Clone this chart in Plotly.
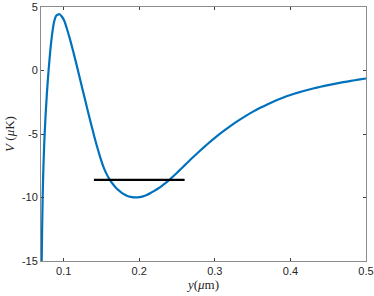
import plotly.graph_objects as go

# Potential curve V(y)
y_um = [0.0709, 0.0715, 0.0722, 0.0730, 0.0740, 0.0749, 0.0762, 0.0778, 0.0800,
        0.0822, 0.0846, 0.0872, 0.0900, 0.0940, 0.0975, 0.1005, 0.1045, 0.1085,
        0.1125, 0.1165, 0.1205, 0.1245, 0.1285, 0.1325, 0.1365, 0.1405, 0.1445,
        0.1485, 0.1525, 0.1565, 0.1605, 0.1645, 0.1685, 0.1725, 0.1765, 0.1805,
        0.1845, 0.1885, 0.1925, 0.1955, 0.2000, 0.2050, 0.2100, 0.2150, 0.2200,
        0.2250, 0.2300, 0.2350, 0.2400, 0.2450, 0.2500, 0.2550, 0.2600, 0.2650,
        0.2700, 0.2800, 0.2900, 0.3000, 0.3100, 0.3200, 0.3300, 0.3400, 0.3500,
        0.3600, 0.3700, 0.3800, 0.3900, 0.4000, 0.4100, 0.4200, 0.4300, 0.4400,
        0.4500, 0.4600, 0.4700, 0.4800, 0.4900, 0.5000]
V_uK = [-15.0, -12.5, -10.0, -8.0, -6.2, -4.9, -3.4, -1.8, 0.0,
        1.5, 2.8, 3.8, 4.3, 4.45, 4.25, 3.95, 3.25, 2.43,
        1.53, 0.58, -0.39, -1.37, -2.35, -3.32, -4.27, -5.19, -6.06,
        -6.86, -7.57, -8.12, -8.55, -8.90, -9.19, -9.42, -9.61, -9.76,
        -9.88, -9.95, -9.99, -9.99, -9.97, -9.91, -9.80, -9.65, -9.48,
        -9.29, -9.08, -8.85, -8.60, -8.33, -8.05, -7.76, -7.47, -7.18,
        -6.89, -6.34, -5.81, -5.31, -4.84, -4.40, -3.99, -3.61, -3.26,
        -2.94, -2.65, -2.38, -2.14, -1.93, -1.74, -1.57, -1.42, -1.28,
        -1.15, -1.03, -0.92, -0.82, -0.72, -0.63]

# Horizontal level (black segment)
level_y = [0.14, 0.26]
level_V = [-8.62, -8.62]

x_ticks = [0.1, 0.2, 0.3, 0.4, 0.5]
x_tick_labels = ["0.1", "0.2", "0.3", "0.4", "0.5"]
y_ticks = [5, 0, -5, -10, -15]
y_tick_labels = ["5", "0", "-5", "-10", "-15"]

fig = go.Figure()
fig.add_trace(go.Scatter(x=y_um, y=V_uK, mode="lines",
                         line=dict(color="#0072BD", width=2.2, shape="spline", smoothing=0.5),
                         showlegend=False, hoverinfo="skip"))
fig.add_trace(go.Scatter(x=level_y, y=level_V, mode="lines",
                         line=dict(color="black", width=2.2),
                         showlegend=False, hoverinfo="skip"))

axis_common = dict(showgrid=False, zeroline=False, showline=True, mirror="ticks",
                   linecolor="#8c8c8c", linewidth=1, ticks="inside", ticklen=3,
                   tickcolor="#404040", tickwidth=1, automargin=False,
                   tickfont=dict(family="Liberation Sans, Arial, sans-serif", size=11, color="#262626"))

fig.update_layout(
    width=374, height=296,
    margin=dict(l=41, r=8, t=7, b=35),
    paper_bgcolor="white", plot_bgcolor="white",
    xaxis=dict(range=[0.07, 0.5], tickvals=x_ticks, ticktext=x_tick_labels,
               title=dict(text="<i>y</i>(<i>μ</i>m)", standoff=2,
                          font=dict(family="Liberation Serif, DejaVu Serif, serif", size=13, color="#262626")),
               **axis_common),
    yaxis=dict(range=[-15, 5], tickvals=y_ticks, ticktext=y_tick_labels,
               title=dict(text="<i>V</i> (<i>μ</i>K)", standoff=4,
                          font=dict(family="Liberation Serif, DejaVu Serif, serif", size=13, color="#262626")),
               **axis_common),
)

fig.write_html("out.html", config={"displayModeBar": False, "staticPlot": True},
               post_script="document.body.style.margin='0';document.body.style.overflow='hidden';")
